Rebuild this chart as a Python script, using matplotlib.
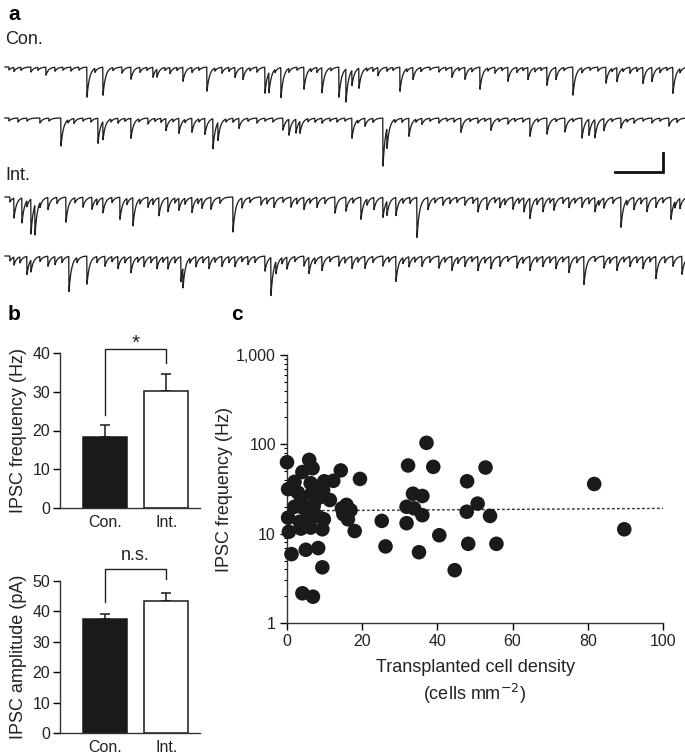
import numpy as np
import matplotlib
matplotlib.use("Agg")
import matplotlib.pyplot as plt

plt.rcParams['font.family'] = ['Liberation Sans', 'DejaVu Sans']

# ---------------- data ----------------
# Panel a: synaptic events (time position in px-units 0-680, depth in px)
con1_times = [4, 9, 16, 26, 33, 41, 50, 58, 66, 74, 82, 90, 98, 108, 117, 126, 135, 142, 148, 152, 160, 165,
              172, 178, 187, 194, 202, 210, 217, 224, 230, 238, 245, 252, 260, 264, 270, 276, 284, 292, 299,
              306, 312, 317, 326, 334, 341, 347, 354, 362, 368, 373, 382, 388, 395, 402, 408, 416, 425, 434,
              441, 447, 454, 460, 467, 475, 483, 490, 497, 503, 512, 518, 523, 530, 536, 542, 551, 559, 568,
              577, 585, 593, 601, 607, 612, 618, 625, 632, 638, 647, 655, 662, 668, 675]
con1_depth = [3, 4, 3, 5, 3, 8, 4, 3, 4, 3, 30, 4, 28, 3, 6, 12, 5, 3, 10, 8, 3, 6,
              3, 14, 5, 3, 24, 3, 6, 4, 10, 12, 3, 5, 26, 20, 3, 30, 4, 3, 22,
              3, 5, 25, 3, 30, 33, 15, 20, 3, 4, 8, 4, 3, 24, 3, 12, 4, 3, 5,
              3, 10, 3, 12, 4, 22, 3, 6, 3, 14, 5, 3, 12, 4, 3, 18, 12, 3, 28,
              5, 3, 4, 16, 3, 14, 3, 6, 4, 16, 14, 5, 3, 26, 4]
con2_times = [4, 13, 22, 35, 44, 56, 63, 69, 78, 86, 93, 98, 106, 113, 120, 126, 134, 143, 150, 156, 161,
              168, 174, 180, 187, 194, 200, 208, 213, 221, 228, 234, 243, 252, 260, 268, 278, 284, 291, 295,
              303, 310, 317, 325, 332, 340, 347, 353, 360, 368, 378, 382, 390, 397, 404, 411, 417, 425, 434,
              442, 449, 456, 465, 473, 480, 486, 494, 503, 510, 518, 525, 533, 542, 551, 560, 568, 577, 584,
              590, 599, 607, 616, 622, 629, 638, 647, 655, 664, 672]
con2_depth = [3, 4, 3, 5, 3, 28, 3, 5, 3, 4, 25, 18, 3, 5, 3, 20, 3, 6, 3, 4, 12,
              3, 15, 3, 14, 3, 16, 30, 18, 3, 4, 10, 3, 5, 3, 4, 12, 16, 14, 12,
              3, 4, 5, 3, 4, 3, 20, 3, 8, 4, 48, 20, 3, 4, 18, 3, 6, 3, 5,
              3, 4, 14, 3, 5, 3, 12, 3, 6, 3, 4, 18, 3, 16, 3, 14, 3, 20, 16,
              18, 12, 3, 10, 3, 5, 3, 5, 3, 8, 4]
int1_times = [5, 9, 17, 22, 26, 30, 35, 43, 52, 61, 70, 78, 87, 92, 98, 107, 115, 122, 128, 135, 143,
              148, 154, 163, 170, 174, 180, 187, 193, 197, 206, 215, 228, 237, 245, 256, 262, 269, 278,
              286, 292, 299, 305, 312, 320, 330, 341, 348, 356, 362, 369, 378, 382, 391, 398, 405, 412,
              423, 430, 438, 445, 452, 460, 468, 473, 482, 490, 495, 500, 508, 514, 519, 525, 532, 538,
              545, 549, 558, 564, 570, 577, 584, 590, 594, 599, 608, 616, 622, 629, 636, 642, 651, 658,
              666, 670, 675]
int1_depth = [5, 20, 25, 6, 35, 30, 5, 12, 6, 25, 5, 10, 12, 6, 15, 5, 22, 6, 28, 5, 10,
              6, 18, 14, 5, 12, 6, 15, 5, 10, 12, 6, 35, 10, 5, 8, 6, 10, 5,
              10, 6, 12, 5, 10, 6, 16, 14, 5, 22, 6, 12, 20, 14, 18, 5, 6, 40,
              12, 5, 8, 6, 5, 8, 6, 14, 12, 5, 10, 6, 12, 5, 14, 20, 6, 14,
              5, 12, 6, 10, 5, 10, 6, 14, 5, 10, 6, 30, 5, 12, 6, 14, 10, 5,
              22, 6, 10]
int2_times = [5, 9, 15, 22, 26, 35, 43, 50, 57, 64, 72, 82, 92, 100, 107, 113, 120, 126, 133, 139, 146,
              152, 158, 163, 170, 176, 178, 185, 191, 198, 204, 210, 217, 224, 230, 237, 243, 250, 260,
              266, 271, 277, 282, 290, 299, 304, 310, 317, 325, 334, 340, 347, 353, 360, 368, 378, 384,
              391, 398, 404, 410, 417, 425, 434, 440, 447, 453, 460, 467, 473, 480, 486, 495, 503, 512,
              518, 525, 532, 538, 545, 551, 558, 564, 572, 579, 590, 599, 605, 612, 619, 625, 632, 638,
              645, 651, 660, 668, 677]
int2_depth = [5, 8, 6, 18, 12, 5, 10, 8, 6, 35, 5, 28, 6, 10, 5, 12, 6, 16, 5, 10, 6,
              12, 5, 12, 6, 25, 20, 5, 10, 6, 12, 5, 10, 6, 10, 5, 8, 6, 15,
              38, 12, 6, 12, 5, 10, 16, 6, 14, 5, 10, 6, 12, 5, 12, 6, 10, 5,
              25, 6, 10, 5, 10, 6, 12, 5, 14, 6, 10, 5, 14, 6, 12, 10, 5, 12,
              6, 14, 5, 10, 6, 12, 5, 16, 6, 28, 5, 12, 6, 14, 5, 10, 6, 12,
              5, 22, 6, 10, 18]

# Panel b
groups = ['Con.', 'Int.']
freq_mean = [18.3, 30.2]
freq_sem = [3.2, 4.4]
amp_mean = [37.5, 43.5]
amp_sem = [1.8, 2.4]

# Panel c: density (cells mm^-2) vs IPSC frequency (Hz)
density = [37.1, 32.2, 38.9, 52.8, 81.7, 89.7, 47.9, 50.7, 47.8, 54.0, 40.5, 48.2, 55.7, 33.5, 36.0,
           31.8, 33.8, 36.0, 31.8, 25.2, 26.2, 35.1, 44.6, 18.0, 19.4, 14.3, 11.4, 12.3, 9.9, 14.6,
           15.8, 16.9, 16.2, 0.0, 5.9, 6.8, 4.1, 2.0, 0.3, 6.3, 8.3, 9.6, 2.9, 6.5, 2.0, 4.3, 7.1,
           6.0, 8.0, 9.8, 0.3, 3.4, 3.7, 6.3, 9.4, 0.5, 8.5, 1.2, 5.0, 8.3, 9.4, 4.1, 6.9, 3.8, 5.2, 15.0]
frequency = [104, 58, 56, 55, 36, 11.2, 38.6, 21.7, 17.6, 15.8, 9.6, 7.7, 7.7, 28, 26.4,
             20, 19.2, 16.1, 13.1, 13.9, 7.2, 6.2, 3.9, 10.7, 41, 51, 23.8, 39, 38.6, 19.2,
             21, 18.3, 14.5, 63, 67, 54, 49, 38, 31.5, 36.7, 32, 30.6, 28.8, 28, 20, 19.5, 20.4,
             16.9, 15.8, 14.5, 15.1, 13.6, 11.4, 11.7, 11.2, 10.5, 25.3, 5.9, 6.6, 6.9, 4.2, 2.15, 1.97, 23.2, 14.5, 16.5]
fit_x = [0, 100]
fit_y = [18.0, 19.2]

# ---------------- figure ----------------
W, H = 685, 754
fig = plt.figure(figsize=(W / 100, H / 100), dpi=100)

ov = fig.add_axes([0, 0, 1, 1])
ov.set_xlim(0, W)
ov.set_ylim(H, 0)
ov.axis('off')

t = np.arange(0, 680, 0.25)
tau = 2.6


def trace(times, depths):
    y = np.zeros_like(t)
    for t0, d in zip(times, depths):
        dt = t - t0
        m = dt >= 0
        y[m] += d * np.exp(-dt[m] / tau)
    return y


traces = [(con1_times, con1_depth, 67), (con2_times, con2_depth, 118),
          (int1_times, int1_depth, 197), (int2_times, int2_depth, 256)]
for times, depths, base in traces:
    ov.plot(5 + t, base + trace(times, depths), color='#222222', lw=0.95)

# scale bar
ov.plot([615, 663, 663], [172, 172, 153], color='#111111', lw=2, solid_joinstyle='miter')

LBL = 13
FS = 11.5
TC = '#222222'

ov.text(8, 14, 'a', fontsize=15, fontweight='bold', va='center', ha='left')
ov.text(5, 40, 'Con.', fontsize=LBL, va='center', ha='left', color=TC)
ov.text(5, 176, 'Int.', fontsize=LBL, va='center', ha='left', color=TC)
ov.text(8, 314, 'b', fontsize=15, fontweight='bold', va='center', ha='left')
ov.text(231, 314, 'c', fontsize=15, fontweight='bold', va='center', ha='left')


def bar_panel(rect, means, sems, ylim, yticks, ylabel, br_y, leg_l, leg_r, sig, sig_y, sig_fs):
    ax = fig.add_axes(rect)
    x = np.arange(len(groups))
    ax.bar(x, means, width=0.72, color=['#1a1a1a', 'white'], edgecolor='#1a1a1a', linewidth=1.1, zorder=2)
    ax.errorbar(x, means, yerr=[[0, 0], sems], fmt='none', ecolor='#1a1a1a', elinewidth=1.1,
                capsize=3.5, capthick=1.1, zorder=1)
    ax.set_xlim(-0.73, 1.55)
    ax.set_ylim(*ylim)
    ax.set_yticks(yticks)
    ax.set_xticks(x)
    ax.set_xticklabels(groups, fontsize=FS, color=TC)
    ax.tick_params(axis='x', length=0, pad=5)
    ax.tick_params(axis='y', labelsize=FS, labelcolor=TC, direction='out', length=5, width=1, pad=2)
    for s in ['top', 'right']:
        ax.spines[s].set_visible(False)
    for s in ['left', 'bottom']:
        ax.spines[s].set_linewidth(1)
        ax.spines[s].set_color('#333333')
    ax.set_ylabel(ylabel, fontsize=LBL, color=TC, labelpad=4)
    ax.plot([0, 0, 1, 1], [leg_l, br_y, br_y, leg_r], color='#222222', lw=1, clip_on=False)
    ax.text(0.5, sig_y, sig, ha='center', va='center', fontsize=sig_fs, color=TC, clip_on=False)
    return ax


bar_panel([60 / W, 1 - 508 / H, 140 / W, 155 / H], freq_mean, freq_sem, (0, 40), [0, 10, 20, 30, 40],
          'IPSC frequency (Hz)', 41, 24, 37.5, '*', 42.4, 15)
bar_panel([60 / W, 1 - 733 / H, 140 / W, 152 / H], amp_mean, amp_sem, (0, 50), [0, 10, 20, 30, 40, 50],
          'IPSC amplitude (pA)', 54, 43, 50.5, 'n.s.', 58.5, LBL)

# panel c
axc = fig.add_axes([287 / W, 1 - 623 / H, 376 / W, 268 / H])
axc.scatter(density, frequency, s=110, color='#1a1a1a', edgecolors='none', zorder=3, clip_on=False)
axc.plot(fit_x, fit_y, color='#333333', lw=1, linestyle=(0, (2, 1.6)), zorder=2)
axc.set_yscale('log')
axc.set_xlim(0, 100)
axc.set_ylim(1, 1000)
axc.set_xticks([0, 20, 40, 60, 80, 100])
axc.set_yticks([1, 10, 100, 1000])
axc.set_yticklabels(['1', '10', '100', '1,000'])
axc.tick_params(axis='both', which='major', labelsize=FS, labelcolor=TC, direction='out', length=5, width=1, pad=3)
axc.tick_params(axis='y', which='minor', direction='out', length=2.5, width=0.8)
for s in ['top', 'right']:
    axc.spines[s].set_visible(False)
for s in ['left', 'bottom']:
    axc.spines[s].set_linewidth(1)
    axc.spines[s].set_color('#333333')
axc.set_ylabel('IPSC frequency (Hz)', fontsize=LBL, color=TC, labelpad=2)
axc.set_xlabel('Transplanted cell density\n(cells mm$^{-2}$)', fontsize=LBL, color=TC, labelpad=7,
               linespacing=1.35)

fig.savefig('out.png', dpi=100)
